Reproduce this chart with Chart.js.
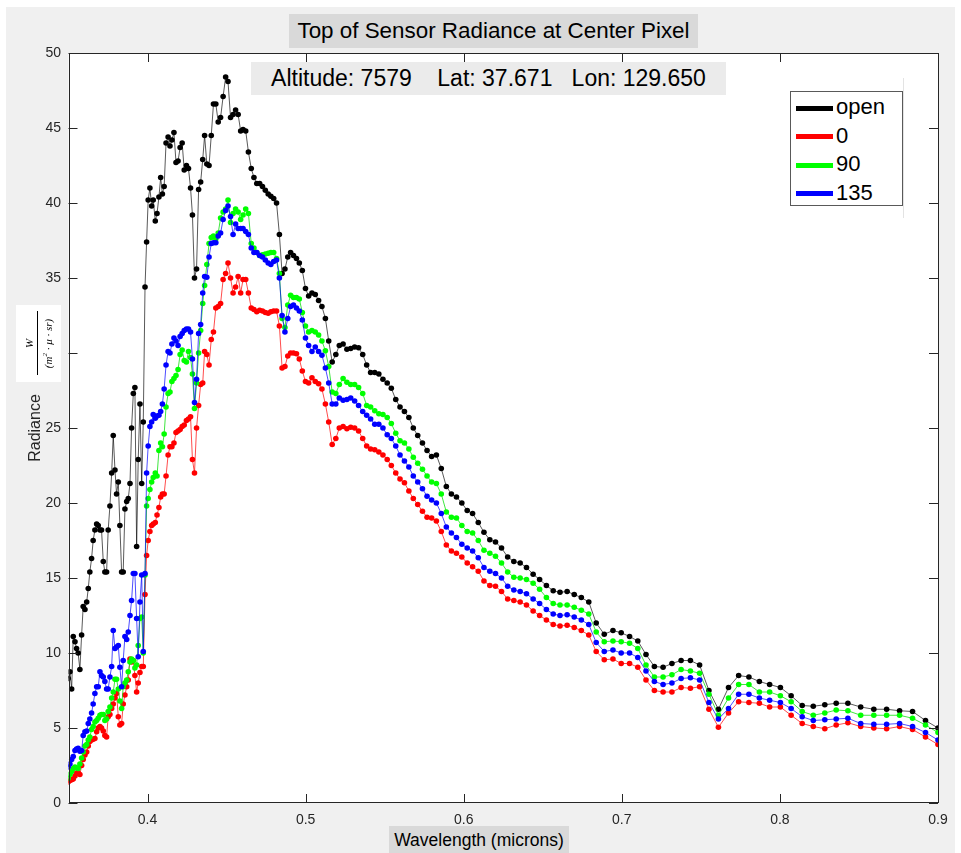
<!DOCTYPE html>
<html>
<head>
<meta charset="utf-8">
<title>Top of Sensor Radiance at Center Pixel</title>
<script src="https://cdn.jsdelivr.net/npm/chart.js@4.4.1/dist/chart.umd.min.js"></script>
<style>
  body { margin: 0; background: #fff; font-family: "Liberation Sans", Arial, Helvetica, sans-serif; }
  #fig { position: relative; width: 961px; height: 853px; overflow: hidden; }
  #bg { position: absolute; left: 6px; top: 7px; width: 949px; height: 846px; background: #f0f0f0; }
  canvas { position: absolute; left: 0; top: 0; }
  .box { position: absolute; color: #000; white-space: pre; text-align: center; }
  #title { left: 289px; top: 14px; width: 409px; height: 34px; line-height: 34px; background: #d9d9d9; font-size: 22.4px; }
  #note { left: 251px; top: 62px; width: 475px; height: 33px; line-height: 33px; background: #ebebeb; font-size: 23px; }
  #xlab { left: 389px; top: 826px; width: 180px; height: 27px; line-height: 28px; background: #d9d9d9; font-size: 17.5px; }
  #ylab { left: -15px; top: 418px; width: 100px; height: 20px; line-height: 20px; font-size: 16px; color: #262626; transform: rotate(-90deg); }
  #unit { position: absolute; left: 16px; top: 305px; width: 45px; height: 77px; background: #fff; }
  #unit .inner { position: absolute; left: -16px; top: 16px; width: 77px; height: 45px; transform: rotate(-90deg);
    display: flex; flex-direction: column; align-items: center; justify-content: center;
    font-family: "Liberation Serif", "DejaVu Serif", serif; font-style: italic; font-size: 11px; color: #000; }
  #unit .num { line-height: 12px; }
  #unit .bar { width: 64px; border-top: 1px solid #000; margin: 2px 0 1px; }
  #unit .den { line-height: 12px; white-space: nowrap; }
  #unit sup { font-size: 7px; }
  #legend { position: absolute; left: 790px; top: 91px; width: 113px; height: 115px; box-sizing: border-box;
    border: 1px solid #595959; background: #fff; padding-top: 1px; }
  #legend .row { height: 28.5px; line-height: 28.5px; font-size: 22px; color: #000; white-space: nowrap; }
  #legend .sw { display: inline-block; width: 37px; height: 5px; margin: 0 3px 0 5px; vertical-align: middle; }
  #faint { position: absolute; left: 903px; top: 78px; width: 1px; height: 140px; background: #e3e3e3; }
</style>
</head>
<body>
<div id="fig">
  <div id="bg"></div>
  <canvas id="chart" width="961" height="853"></canvas>
  <div class="box" id="title">Top of Sensor Radiance at Center Pixel</div>
  <div class="box" id="note">Altitude: 7579    Lat: 37.671   Lon: 129.650</div>
  <div id="faint"></div>
  <div id="legend">
    <div class="row"><span class="sw" style="background:#000"></span>open</div>
    <div class="row"><span class="sw" style="background:#ff0000"></span>0</div>
    <div class="row"><span class="sw" style="background:#00ff00"></span>90</div>
    <div class="row"><span class="sw" style="background:#0000ff"></span>135</div>
  </div>
  <div class="box" id="ylab">Radiance</div>
  <div id="unit"><div class="inner"><div class="num">W</div><div class="bar"></div><div class="den">(m<sup>2</sup> · μ · sr)</div></div></div>
  <div class="box" id="xlab">Wavelength (microns)</div>
</div>
<script>
// wavelength samples (microns), shared by all four curves
const wavelength = [
  0.3498, 0.3509, 0.3520, 0.3530, 0.3541, 0.3551, 0.3561, 0.3572, 0.3583, 0.3593, 0.3604, 0.3615, 0.3625, 0.3635, 0.3646, 0.3656,
  0.3667, 0.3678, 0.3688, 0.3699, 0.3709, 0.3720, 0.3730, 0.3741, 0.3751, 0.3762, 0.3773, 0.3783, 0.3794, 0.3804, 0.3815, 0.3825,
  0.3836, 0.3846, 0.3857, 0.3868, 0.3878, 0.3889, 0.3899, 0.3910, 0.3920, 0.3931, 0.3941, 0.3952, 0.3963, 0.3973, 0.3984,
  0.3994, 0.4004, 0.4015, 0.4026, 0.4036, 0.4049, 0.4060, 0.4072, 0.4083, 0.4094, 0.4105, 0.4117, 0.4130, 0.4142, 0.4154, 0.4167,
  0.4180, 0.4193, 0.4206, 0.4219, 0.4232, 0.4246, 0.4259, 0.4272, 0.4284, 0.4297, 0.4310, 0.4323, 0.4336, 0.4349, 0.4361, 0.4375,
  0.4389, 0.4403, 0.4417, 0.4432, 0.4447, 0.4462, 0.4478, 0.4494, 0.4509, 0.4525, 0.4541, 0.4557, 0.4573, 0.4589, 0.4604, 0.4621,
  0.4638, 0.4656, 0.4673, 0.4691,
  0.4709, 0.4727, 0.4745, 0.4763, 0.4780, 0.4798, 0.4816, 0.4834, 0.4851, 0.4869, 0.4887, 0.4905, 0.4923, 0.4942, 0.4960, 0.4979,
  0.4999, 0.5019, 0.5040, 0.5061, 0.5082, 0.5103, 0.5125, 0.5146, 0.5168, 0.5191, 0.5213, 0.5237, 0.5261, 0.5285, 0.5310, 0.5335,
  0.5361, 0.5386, 0.5411, 0.5437, 0.5463, 0.5489, 0.5516, 0.5542, 0.5570, 0.5597, 0.5625, 0.5653, 0.5681, 0.5709, 0.5739, 0.5768,
  0.5797,
  0.5827, 0.5858, 0.5890, 0.5922, 0.5954, 0.5988, 0.6022, 0.6056, 0.6092, 0.6128, 0.6165, 0.6201, 0.6239, 0.6278, 0.6317, 0.6357,
  0.6397, 0.6439, 0.6480, 0.6523, 0.6566, 0.6609, 0.6654, 0.6699, 0.6744, 0.6791, 0.6838,
  0.6889, 0.6944, 0.6996, 0.7049, 0.7101, 0.7153, 0.7206, 0.7261, 0.7317, 0.7375, 0.7434, 0.7492, 0.7551, 0.7611, 0.7675, 0.7739,
  0.7804, 0.7870, 0.7935, 0.8003, 0.8071, 0.8141, 0.8211, 0.8284, 0.8356, 0.8430, 0.8511, 0.8594, 0.8675, 0.8757, 0.8839, 0.8921,
  0.9000
];

// radiance, no polarizer
const openRad = [
  8.3, 8.75, 7.6, 11.1, 10.75, 10.3, 10.0, 8.9, 11.2, 13.1, 12.9, 13.4, 14.3, 15.4, 16.3, 17.5,
  18.2, 18.6, 18.5, 18.2, 18.2, 16.1, 15.4, 15.4, 18.2, 19.8, 22.0, 24.5, 22.2, 20.6, 21.4, 18.5,
  15.4, 15.4, 19.6, 20.1, 20.3, 21.3, 25.0, 27.3, 27.7, 17.1, 22.9, 26.6, 21.3, 25.4, 34.4,
  37.4, 40.2, 41.0, 39.8, 40.2, 38.8, 39.3, 40.4, 41.7, 40.6, 41.1, 44.0, 44.4, 43.8, 44.2, 44.7,
  42.7, 42.8, 43.7, 44.0, 42.2, 42.5, 42.3, 41.0, 39.2, 35.0, 35.6, 40.9, 41.4, 42.9, 44.5, 42.6,
  42.5, 44.5, 46.6, 46.6, 45.4, 45.7, 47.1, 48.4, 48.1, 45.7, 45.9, 46.2, 45.9, 44.8, 44.9, 44.8,
  43.4, 42.3, 41.7, 41.3,
  41.3, 41.1, 40.85, 40.6, 40.45, 40.3, 40.0, 37.9, 35.3, 35.6, 36.4, 36.7, 36.5, 36.3, 36.0, 35.5,
  34.3, 33.8, 34.0, 33.9, 33.5, 33.1, 32.3, 30.8, 29.4, 29.9, 30.5, 30.6, 30.25, 30.3, 30.4, 30.35,
  29.9, 29.2, 28.7, 28.7, 28.6, 28.25, 28.0, 27.65, 26.9, 26.4, 26.1, 25.7, 25.0, 24.5, 24.0, 23.5,
  23.1,
  23.2, 22.3, 21.1, 20.6, 20.4, 20.0, 19.5, 19.3, 18.7, 18.05, 17.55, 17.4, 17.0, 16.4, 16.1, 16.0,
  15.7, 15.25, 14.9, 14.5, 14.15, 14.05, 14.1, 13.9, 13.7, 13.4, 12.0,
  11.25, 11.5, 11.35, 11.1, 10.8, 9.9, 9.1, 9.05, 9.3, 9.5, 9.5, 9.2, 7.5, 6.25, 7.7, 8.5,
  8.4, 8.1, 7.9, 7.7, 7.15, 6.5, 6.45, 6.55, 6.65, 6.65, 6.4, 6.25, 6.25, 6.15, 6.1, 5.5,
  5.0
];

// radiance, polarizer at 0 deg
const pol0 = [
  1.4, 1.5, 1.55, 1.6, 1.8, 2.0, 2.0, 1.9, 2.5, 2.9, 3.2, 3.4, 3.8, 4.1, 4.2, 4.25,
  4.3, 4.75, 5.0, 5.1, 5.0, 4.8, 4.5, 4.4, 5.75, 5.9, 6.3, 6.6, 7.0, 7.3, 5.75, 5.2,
  5.3, 6.6, 7.2, 7.75, 8.2, 9.6, 9.4, 9.5, 8.5, 7.4, 8.0, 8.7, 9.1, 9.1, 13.9,
  16.5, 17.5, 18.1, 18.5, 18.6, 18.7, 19.2, 19.7, 20.4, 20.6, 20.6, 21.8, 23.2, 23.75, 23.75, 24.0,
  24.7, 24.8, 24.9, 25.1, 25.2, 25.5, 25.6, 25.75, 22.9, 22.0, 25.0, 26.5, 27.9, 28.0, 30.1, 29.9,
  29.2, 30.9, 31.4, 33.0, 33.1, 33.3, 34.9, 35.3, 36.0, 35.0, 34.0, 34.4, 35.1, 34.0, 34.9, 34.9,
  34.0, 33.0, 32.9, 32.75,
  32.85, 32.8, 32.7, 32.65, 32.75, 32.8, 32.8, 31.8, 29.0, 29.1, 29.8, 30.0, 30.0, 29.95, 29.6, 28.8,
  28.1, 28.0, 28.35, 28.1, 27.95, 27.6, 26.6, 25.4, 23.9, 24.3, 25.0, 25.1, 24.95, 25.05, 25.0, 24.8,
  24.3, 23.8, 23.6, 23.55, 23.4, 23.2, 22.9, 22.5, 22.0, 21.6, 21.35, 20.8, 20.3, 19.9, 19.45, 19.05,
  19.0,
  18.8, 18.1, 17.2, 16.8, 16.65, 16.4, 16.0, 15.75, 15.45, 14.8, 14.5, 14.45, 14.1, 13.6, 13.5, 13.4,
  13.2, 12.8, 12.5, 12.2, 11.9, 11.8, 11.85, 11.7, 11.5, 11.2, 10.1,
  9.55, 9.6, 9.3, 9.3, 9.05, 8.2, 7.5, 7.4, 7.4, 7.7, 7.65, 7.75, 6.25, 5.05, 6.0, 6.75,
  6.7, 6.65, 6.4, 6.4, 5.85, 5.3, 5.1, 4.95, 5.2, 5.35, 5.1, 5.0, 4.95, 5.1, 4.9, 4.4,
  3.9
];

// radiance, polarizer at 90 deg
const pol90 = [
  1.65, 1.9, 2.1, 2.3, 2.4, 2.35, 2.3, 2.6, 3.0, 3.4, 3.8, 3.9, 4.2, 4.4, 4.9, 5.1,
  5.4, 5.5, 5.65, 5.85, 5.9, 5.9, 5.5, 5.6, 6.1, 6.4, 7.0, 7.4, 8.25, 8.25, 7.6, 6.8,
  6.3, 7.75, 8.0, 8.2, 8.75, 9.4, 9.6, 9.5, 9.0, 9.2, 10.5, 12.3, 12.4, 10.0, 15.2,
  19.8, 20.3, 20.9, 21.4, 21.7, 22.0, 21.8, 23.5, 24.0, 23.75, 24.6, 26.4, 27.3, 27.4, 28.1, 28.3,
  28.5, 28.9, 29.9, 30.2, 29.5, 29.4, 30.1, 29.7, 28.6, 26.3, 28.0, 30.0, 31.5, 33.3, 34.5, 35.9,
  37.3, 37.7, 37.8, 37.6, 38.0, 39.0, 39.4, 39.6, 40.2, 38.7, 39.3, 39.6, 39.4, 38.9, 39.2, 39.6,
  39.3, 37.3, 37.0, 36.7,
  36.5, 36.55, 36.6, 36.65, 36.7, 36.7, 36.3, 35.3, 32.3, 31.7, 33.2, 33.85, 33.7, 33.7, 33.6, 32.7,
  31.8, 31.4, 31.5, 31.4, 31.2, 30.8, 30.15, 29.1, 27.4, 27.3, 27.9, 28.3, 28.05, 27.9, 27.9, 27.7,
  27.3, 26.5, 26.4, 26.15, 25.95, 25.9, 25.7, 25.3, 24.65, 24.15, 24.0, 23.6, 23.05, 22.65, 22.25, 21.8,
  21.4,
  21.3, 20.6, 19.4, 19.05, 19.0, 18.5, 18.1, 18.0, 17.5, 16.85, 16.65, 16.45, 16.0, 15.4, 15.05, 15.0,
  14.9, 14.65, 14.25, 13.7, 13.3, 13.2, 13.2, 13.05, 12.85, 12.6, 11.4,
  10.75, 10.8, 10.75, 10.65, 10.3, 9.2, 8.4, 8.4, 8.55, 8.9, 8.8, 8.65, 7.25, 5.85, 7.0, 7.9,
  7.9, 7.4, 7.4, 7.15, 6.75, 6.1, 5.85, 6.0, 6.2, 6.15, 5.85, 5.85, 5.85, 5.85, 5.65, 5.2,
  4.7
];

// radiance, polarizer at 135 deg
const pol135 = [
  2.4, 2.6, 2.9, 3.1, 3.5, 3.6, 3.65, 3.45, 3.5, 4.5, 4.75, 4.8, 5.3, 5.6, 6.0, 6.6,
  7.3, 7.75, 7.75, 8.75, 8.5, 8.4, 8.1, 7.6, 7.6, 8.4, 9.1, 11.5, 10.3, 10.4, 10.5, 9.05,
  7.75, 9.5, 11.1, 10.9, 11.4, 12.5, 13.5, 15.3, 15.3, 12.3, 9.75, 13.4, 15.2, 10.1, 15.3,
  22.0, 23.8, 25.1, 25.4, 25.9, 25.65, 25.8, 25.85, 26.1, 26.6, 27.6, 29.2, 30.1, 30.0, 30.6, 31.0,
  30.8, 30.5, 31.1, 31.3, 31.5, 31.6, 31.6, 31.4, 29.6, 26.7, 28.25, 31.3, 31.9, 34.0, 35.1, 35.05,
  36.4, 37.3, 37.35, 37.35, 37.8, 38.0, 38.9, 39.5, 39.8, 39.1, 37.9, 38.6, 38.3, 38.3, 38.3, 38.1,
  37.9, 37.0, 36.7, 36.7,
  36.5, 36.4, 36.2, 36.0, 35.9, 36.1, 36.2, 35.0, 32.5, 31.4, 32.3, 33.1, 33.2, 33.0, 32.8, 32.2,
  31.0, 30.5, 30.1, 30.4, 30.1, 29.85, 29.0, 28.0, 26.6, 26.6, 27.0, 26.85, 26.9, 27.0, 26.8, 26.5,
  26.1, 25.85, 25.6, 25.25, 25.25, 25.0, 24.55, 24.3, 23.8, 23.2, 22.8, 22.4, 21.8, 21.4, 20.95, 20.45,
  20.2,
  20.0, 19.3, 18.4, 18.0, 17.7, 17.25, 17.0, 16.8, 16.35, 15.7, 15.45, 15.3, 15.0, 14.45, 14.2, 14.1,
  13.95, 13.6, 13.3, 12.9, 12.6, 12.5, 12.55, 12.4, 12.2, 11.9, 10.7,
  10.1, 10.2, 10.0, 10.0, 9.7, 8.8, 8.1, 7.9, 8.0, 8.3, 8.35, 8.2, 6.7, 5.6, 6.3, 7.25,
  7.25, 7.0, 6.85, 6.7, 6.3, 5.75, 5.5, 5.55, 5.6, 5.65, 5.3, 5.25, 5.25, 5.3, 5.1, 4.7,
  4.2
];

const xTicks = [0.4, 0.5, 0.6, 0.7, 0.8, 0.9];
const yTicks = [0, 5, 10, 15, 20, 25, 30, 35, 40, 45, 50];

const toPoints = (vals) => wavelength.map((w, i) => ({ x: w, y: vals[i] }));

const makeSet = (label, vals, color, line, order) => ({
  label: label,
  data: toPoints(vals),
  borderColor: line,
  borderWidth: 1,
  pointRadius: 2.8,
  pointHoverRadius: 2.8,
  pointBorderWidth: 0,
  pointBackgroundColor: color,
  tension: 0,
  order: order // higher order is drawn first
});

// white plot area, box outline and inward ticks on all four sides
const framePlugin = {
  id: 'frame',
  beforeDraw(chart) {
    const { ctx, chartArea: a } = chart;
    ctx.save();
    ctx.fillStyle = '#ffffff';
    ctx.fillRect(a.left, a.top, a.right - a.left, a.bottom - a.top);
    ctx.restore();
  },
  afterDraw(chart) {
    const { ctx, chartArea: a, scales } = chart;
    const len = 9;
    ctx.save();
    ctx.strokeStyle = '#262626';
    ctx.lineWidth = 1;
    ctx.beginPath();
    xTicks.forEach((v) => {
      const px = Math.round(scales.x.getPixelForValue(v)) + 0.5;
      ctx.moveTo(px, a.bottom); ctx.lineTo(px, a.bottom - len);
      ctx.moveTo(px, a.top); ctx.lineTo(px, a.top + len);
    });
    yTicks.forEach((v) => {
      const py = Math.round(scales.y.getPixelForValue(v)) + 0.5;
      ctx.moveTo(a.left, py); ctx.lineTo(a.left + len, py);
      ctx.moveTo(a.right, py); ctx.lineTo(a.right - len, py);
    });
    ctx.stroke();
    ctx.strokeRect(Math.round(a.left) + 0.5, Math.round(a.top) + 0.5,
      Math.round(a.right - a.left) - 1, Math.round(a.bottom - a.top) - 1);
    ctx.restore();
  }
};

new Chart(document.getElementById('chart'), {
  type: 'line',
  data: {
    datasets: [
      makeSet('open', openRad, '#000000', 'rgba(0,0,0,0.65)', 4),
      makeSet('0', pol0, '#ff0000', 'rgba(255,0,0,0.7)', 3),
      makeSet('90', pol90, '#00ff00', 'rgba(0,220,0,0.75)', 2),
      makeSet('135', pol135, '#0000ff', 'rgba(0,0,255,0.7)', 1)
    ]
  },
  options: {
    responsive: false,
    animation: false,
    devicePixelRatio: 1,
    layout: { padding: { left: 28.5, right: 23, top: 53, bottom: 10 } },
    plugins: {
      legend: { display: false },
      tooltip: { enabled: false }
    },
    events: [],
    scales: {
      x: {
        type: 'linear',
        min: 0.35,
        max: 0.9,
        grid: { display: false, drawTicks: false },
        border: { display: false },
        ticks: {
          color: '#262626',
          font: { family: '"Liberation Sans", Arial, sans-serif', size: 14 },
          padding: 9,
          maxRotation: 0,
          autoSkip: false,
          callback: (v) => v.toFixed(1)
        },
        afterBuildTicks: (scale) => { scale.ticks = xTicks.map((v) => ({ value: v })); },
        afterFit: (scale) => { scale.height = 40; }
      },
      y: {
        type: 'linear',
        min: 0,
        max: 50,
        grid: { display: false, drawTicks: false },
        border: { display: false },
        ticks: {
          color: '#262626',
          font: { family: '"Liberation Sans", Arial, sans-serif', size: 14 },
          padding: 7.5,
          autoSkip: false,
          callback: (v) => String(v)
        },
        afterBuildTicks: (scale) => { scale.ticks = yTicks.map((v) => ({ value: v })); },
        afterFit: (scale) => { scale.width = 40; }
      }
    }
  },
  plugins: [framePlugin]
});
</script>
</body>
</html>
